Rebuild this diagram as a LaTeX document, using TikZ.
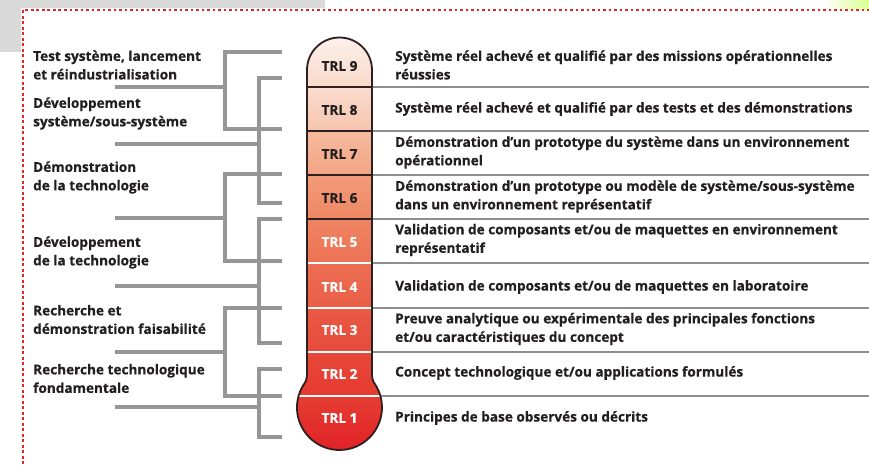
\documentclass[tikz,border=0pt]{standalone}
\usepackage{fontspec}
\setmainfont{Open Sans}[BoldFeatures={FakeBold=0.6}]
\definecolor{bggray}{HTML}{D9D9D9}
\definecolor{brkgray}{HTML}{969696}
\definecolor{sepgray}{HTML}{8E8E8E}
\definecolor{txt}{HTML}{231F20}
\definecolor{outl}{HTML}{2E2020}
\definecolor{dotred}{HTML}{E3242B}
\definecolor{c9a}{HTML}{FEF4EF}\definecolor{c9b}{HTML}{F9D9CA}
\definecolor{c8a}{HTML}{FADCCD}\definecolor{c8b}{HTML}{F6C4AE}
\definecolor{c7a}{HTML}{F6BA9E}\definecolor{c7b}{HTML}{F3A485}
\definecolor{c6a}{HTML}{F29B7A}\definecolor{c6b}{HTML}{EE8763}
\definecolor{c5a}{HTML}{EF8463}\definecolor{c5b}{HTML}{EC7254}
\definecolor{c4a}{HTML}{EC6E52}\definecolor{c4b}{HTML}{E95E47}
\definecolor{c3a}{HTML}{E95A45}\definecolor{c3b}{HTML}{E64A3A}
\definecolor{c2a}{HTML}{E74838}\definecolor{c2b}{HTML}{E53A30}
\definecolor{c1a}{HTML}{E53D32}\definecolor{c1b}{HTML}{E11F26}
\newcommand\thermopath{(307,70) arc[start angle=180,end angle=0,radius=32.5pt] -- (372,372) .. controls (372,376) and (372,379.8) .. (374.3,383.1) arc[start angle=35,end angle=-215,radius=42.5pt] .. controls (307,379.8) and (307,376) .. (307,372) -- cycle}
\begin{document}
\begin{tikzpicture}[x=1pt,y=-1pt,
  brk/.style={draw=brkgray, line width=3.3pt},
  sepline/.style={draw=sepgray, line width=2pt},
  lbl/.style={font=\bfseries\fontsize{13.6}{18.5}\selectfont, anchor=west, align=left, inner sep=0pt, text=txt},
  trl/.style={font=\bfseries\fontsize{13.6}{16}\selectfont, inner sep=0pt},
  darkdiv/.style={draw=outl, line width=2pt},
  whitediv/.style={draw=white, line width=2.2pt},
]
\useasboundingbox (0,0) rectangle (869,464);
\fill[white] (0,0) rectangle (869,464);
\fill[bggray] (0,0) rectangle (325,8);
\fill[bggray] (0,0) rectangle (21,52);
\begin{scope}
  \clip (700,0) rectangle (869,9);
  \shade[inner color=green!35!yellow!45, outer color=white] (869,0) circle[radius=45pt];
\end{scope}
\draw[dotred, line width=2.6pt, dash pattern=on 2.6pt off 2.9pt] (23,464) -- (23,10) -- (869,10);

% separator lines
\foreach \yy in {87,131,175,219,263,308,352} {\draw[sepline] (372,\yy) -- (869,\yy);}
\draw[sepline] (380,396) -- (869,396);

% thermometer fills
\begin{scope}
  \clip \thermopath;
  \shade[top color=c9a, bottom color=c9b] (290,30) rectangle (390,87);
  \shade[top color=c8a, bottom color=c8b] (290,87) rectangle (390,131);
  \shade[top color=c7a, bottom color=c7b] (290,131) rectangle (390,175);
  \shade[top color=c6a, bottom color=c6b] (290,175) rectangle (390,219);
  \shade[top color=c5a, bottom color=c5b] (290,219) rectangle (390,263);
  \shade[top color=c4a, bottom color=c4b] (290,263) rectangle (390,308);
  \shade[top color=c3a, bottom color=c3b] (290,308) rectangle (390,352);
  \shade[top color=c2a, bottom color=c2b] (290,352) rectangle (390,396);
  \shade[top color=c1a, bottom color=c1b] (290,396) rectangle (390,455);
\end{scope}
\foreach \yy in {87,131,175,219} {\draw[darkdiv] (307,\yy) -- (372,\yy);}
\foreach \yy in {263,308,352} {\draw[whitediv] (308,\yy) -- (371,\yy);}
\draw[whitediv] (299,396) -- (380,396);
\draw[outl, line width=1.8pt] \thermopath;

% TRL labels
\node[trl, text=txt] (t9) at (339.5,66) {TRL 9};
\node[trl, text=txt] (t8) at (339.5,110) {TRL 8};
\node[trl, text=txt] (t7) at (339.5,154) {TRL 7};
\node[trl, text=txt] (t6) at (339.5,198) {TRL 6};
\node[trl, text=white] (t5) at (339.5,242) {TRL 5};
\node[trl, text=white] (t4) at (339.5,287) {TRL 4};
\node[trl, text=white] (t3) at (339.5,330) {TRL 3};
\node[trl, text=white] (t2) at (339.5,374) {TRL 2};
\node[trl, text=white] (t1) at (339.5,418) {TRL 1};

% right descriptions
\node[lbl] (d9) at (395,65) {Système réel achevé et qualifié par des missions opérationnelles\\réussies};
\node[lbl] (d8) at (395,109) {Système réel achevé et qualifié par des tests et des démonstrations};
\node[lbl] (d7) at (395,152.5) {Démonstration d’un prototype du système dans un environnement\\opérationnel};
\node[lbl] (d6) at (395,196.5) {Démonstration d’un prototype ou modèle de système/sous-système\\dans un environnement représentatif};
\node[lbl] (d5) at (395,240) {Validation de composants et/ou de maquettes en environnement\\représentatif};
\node[lbl] (d4) at (395,287) {Validation de composants et/ou de maquettes en laboratoire};
\node[lbl] (d3) at (395,329) {Preuve analytique ou expérimentale des principales fonctions\\et/ou caractéristiques du concept};
\node[lbl] (d2) at (395,373) {Concept technologique et/ou applications formulés};
\node[lbl] (d1) at (395,418) {Principes de base observés ou décrits};

% left groups
\node[lbl] (g1) at (33,65) {Test système, lancement\\et réindustrialisation};
\node[lbl] (g2) at (33,113.5) {Développement\\système/sous-système};
\node[lbl] (g3) at (33,177.5) {Démonstration\\de la technologie};
\node[lbl] (g4) at (33,252.5) {Développement\\de la technologie};
\node[lbl] (g5) at (33,319.5) {Recherche et\\démonstration faisabilité};
\node[lbl] (g6) at (33,378.5) {Recherche technologique\\fondamentale};

% bracket coordinates
\coordinate (s1) at (115,87);  \coordinate (a1t) at (282,52);  \coordinate (a1b) at (282,129);
\coordinate (s2) at (115,144); \coordinate (b2t) at (282,78);  \coordinate (b2b) at (282,203);
\coordinate (s3) at (115,218); \coordinate (a3t) at (282,174); \coordinate (a3b) at (282,261);
\coordinate (s4) at (115,286); \coordinate (b4t) at (282,219); \coordinate (b4b) at (282,343);
\coordinate (s5) at (115,352); \coordinate (a5t) at (282,308); \coordinate (a5b) at (282,396);
\coordinate (s6) at (115,407); \coordinate (b6t) at (282,369); \coordinate (b6b) at (282,437);

\draw[brk] (a1t) -| (225,87) |- (a1b); \draw[brk] (s1) -- (225,87);
\draw[brk] (a3t) -| (225,218) |- (a3b); \draw[brk] (s3) -- (225,218);
\draw[brk] (a5t) -| (225,352) |- (a5b); \draw[brk] (s5) -- (225,352);
\draw[brk] (b2t) -| (259,144) |- (b2b); \draw[brk] (s2) -- (259,144);
\draw[brk] (b4t) -| (259,286) |- (b4b); \draw[brk] (s4) -- (259,286);
\draw[brk] (b6t) -| (259,407) |- (b6b); \draw[brk] (s6) -- (259,407);
\end{tikzpicture}
\end{document}
